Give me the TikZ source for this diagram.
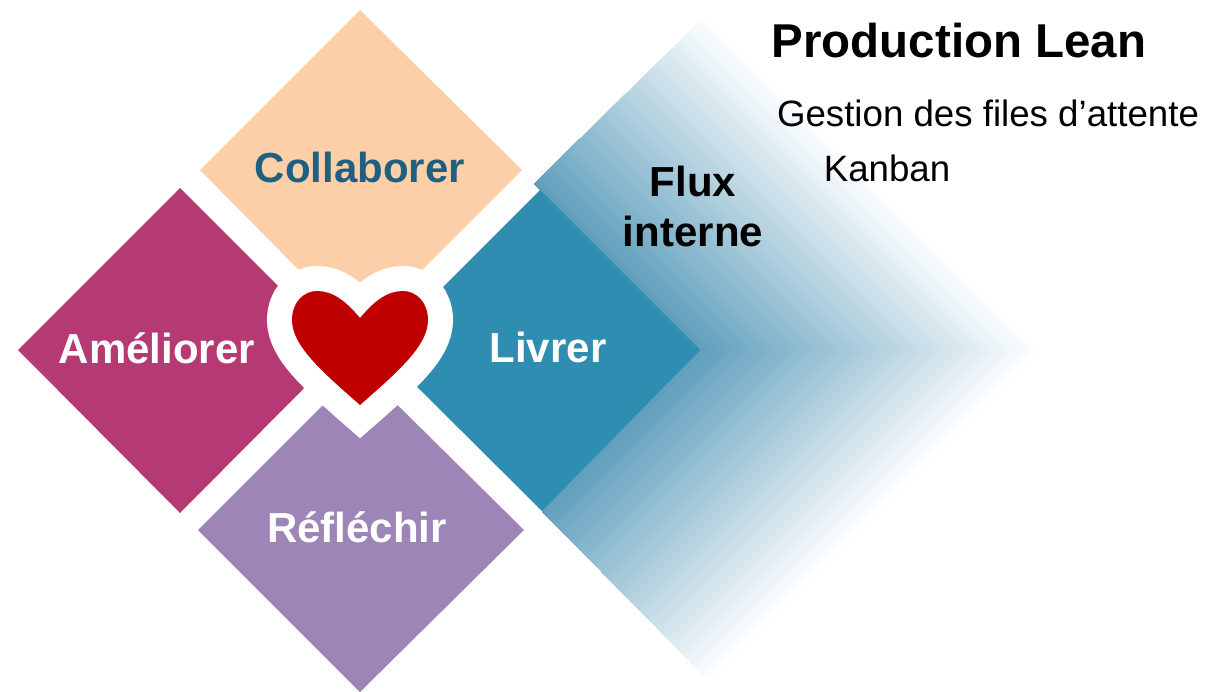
\documentclass[tikz,border=0pt]{standalone}
\usepackage{fontspec}
\setmainfont{Liberation Sans}
\definecolor{collab}{HTML}{FDCFA9}
\definecolor{collabtext}{HTML}{1F5F7F}
\definecolor{amelior}{HTML}{B53A74}
\definecolor{livrer}{HTML}{2E8DB0}
\definecolor{reflech}{HTML}{9D85B8}
\definecolor{fluxblue}{HTML}{5F9FBC}
\definecolor{heartred}{HTML}{C00000}
\tikzset{
  petal/.style={font=\fontsize{31.5}{36}\selectfont\bfseries, white, inner sep=0pt},
  plain/.style={font=\fontsize{27.5}{33}\selectfont, inner sep=0pt},
}
\begin{document}
\begin{tikzpicture}[x=0.75pt,y=-0.75pt]
\useasboundingbox (0, 0) rectangle (1213, 692);

\begin{scope}
\clip (534, 184) -- (720, 2) -- (1045, 350) -- (720, 692) -- (542, 511) -- (700, 350) -- cycle;
\foreach \t in {340,338,...,0} {
  \pgfmathsetmacro{\mix}{100*(1-\t/340)}
  \fill [fluxblue!\mix!white] (700+\t, 350) -- (200+\t, -150) -- (200+\t, 850) -- cycle;
}
\end{scope}

\fill [collab] (360, 10) -- (522, 170) -- (360, 332) -- (200, 170) -- cycle;
\fill [amelior] (18, 350) -- (180, 188) -- (342, 350) -- (180, 513) -- cycle;
\fill [livrer] (700, 350) -- (540, 190) -- (380, 350) -- (542, 511) -- cycle;
\fill [reflech] (360, 368) -- (524, 530) -- (360, 692) -- (198, 530) -- cycle;

\def\heartpath{(360, 318) .. controls (345, 300) and (332, 291) .. (317, 291)
  .. controls (303, 291) and (292, 303) .. (292, 320)
  .. controls (292, 345) and (320, 370) .. (360, 405)
  .. controls (400, 370) and (428, 345) .. (428, 320)
  .. controls (428, 303) and (417, 291) .. (403, 291)
  .. controls (388, 291) and (375, 300) .. (360, 318) -- cycle}
\draw [white, line width=37.5pt, line join=miter] \heartpath;
\fill [heartred] \heartpath;

\node [petal, collabtext] (collaborer) at (360, 167) {Collaborer};
\node [petal] (ameliorer) at (157, 348) {Améliorer};
\node [petal] (livrernode) at (548, 347) {Livrer};
\node [petal] (reflechir) at (357, 527) {Réfléchir};

\node [font=\fontsize{31.5}{37.5}\selectfont\bfseries, align=center, inner sep=0pt] (flux) at (693, 206) {Flux\\interne};
\node [font=\fontsize{35.6}{40}\selectfont\bfseries, inner sep=0pt] (titre) at (959, 41) {Production Lean};
\node [plain] (gestion) at (988, 113) {Gestion des files d’attente};
\node [plain] (kanban) at (887, 168) {Kanban};
\end{tikzpicture}
\end{document}
